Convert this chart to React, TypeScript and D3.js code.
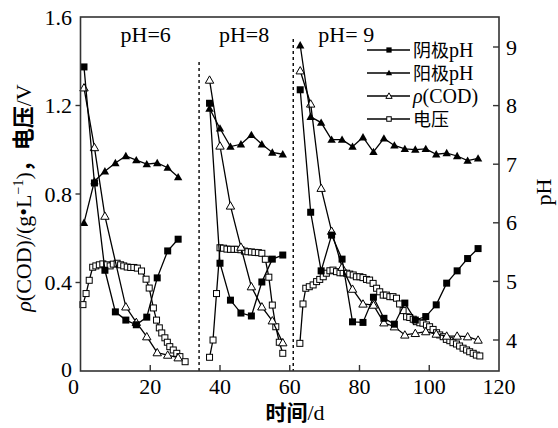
import React from 'react';
import * as d3 from 'd3';

// time (d) of each 3-day sample, per pH stage
const daysP1 = [1, 4, 7, 10, 13, 16, 19, 22, 25, 28];
const daysP2 = [37, 40, 43, 46, 49, 52, 55, 58];
const daysP3 = [63, 66, 69, 72, 75, 78, 81, 84, 87, 90, 93, 96, 99, 102, 105, 108, 111, 114];

// 阴极pH
const cathodeP1 = [8.66, 6.68, 5.19, 4.48, 4.34, 4.26, 4.39, 5.06, 5.52, 5.72];
const cathodeP2 = [8.04, 5.31, 4.68, 4.46, 4.41, 4.99, 5.38, 5.45];
const cathodeP3 = [8.27, 6.18, 5.18, 5.79, 5.38, 4.31, 4.3, 4.73, 4.37, 4.27, 4.63, 4.34, 4.4, 4.6, 4.97, 5.18, 5.39, 5.56];

// 阳极pH
const anodeP1 = [6.0, 6.71, 6.88, 7.02, 7.14, 7.07, 7.0, 7.02, 6.94, 6.78];
const anodeP2 = [7.95, 7.61, 7.3, 7.34, 7.5, 7.34, 7.2, 7.17];
const anodeP3 = [9.03, 7.81, 7.71, 7.42, 7.42, 7.3, 7.46, 7.21, 7.44, 7.32, 7.26, 7.25, 7.26, 7.17, 7.19, 7.14, 7.06, 7.1];

// ρ(COD) g/L
const codDaysP1 = [1, 4, 7, 13, 16, 19, 22, 25, 28];
const codP1 = [1.28, 1.01, 0.7, 0.29, 0.22, 0.155, 0.083, 0.072, 0.06];
const codP2 = [1.315, 1.017, 0.746, 0.56, 0.381, 0.29, 0.227, 0.128];
const codP3 = [1.357, 1.207, 0.826, 0.632, 0.469, 0.37, 0.303, 0.298, 0.218, 0.2, 0.163, 0.17, 0.178, 0.167, 0.158, 0.158, 0.155, 0.14];

// 电压 V, roughly daily readings
const voltDaysP1 = [0.7, 1.6, 2.5, 3.5, 4.4, 5.4, 6.4, 7.5, 8.5, 9.4, 10.5, 11.5, 12.4, 13.4, 14.4, 15.3, 16.3, 17.5, 18.8, 19.7, 20.9, 21.8, 22.6, 23.3, 24.2, 24.9, 25.6, 26.6, 27.6, 28.5, 30.0];
const voltP1 = [0.3, 0.35, 0.41, 0.469, 0.475, 0.48, 0.484, 0.48, 0.475, 0.483, 0.487, 0.48, 0.475, 0.47, 0.468, 0.468, 0.465, 0.452, 0.415, 0.375, 0.285, 0.23, 0.195, 0.172, 0.15, 0.13, 0.11, 0.095, 0.08, 0.065, 0.042];
const voltDaysP2 = [37, 38, 39, 40, 41, 42, 43, 44, 45, 46, 47, 48, 49, 50, 51, 52, 53, 54, 55, 56, 57, 58];
const voltP2 = [0.062, 0.14, 0.35, 0.557, 0.555, 0.551, 0.55, 0.55, 0.55, 0.548, 0.542, 0.539, 0.538, 0.536, 0.535, 0.532, 0.505, 0.424, 0.298, 0.2, 0.13, 0.08];
const voltDaysP3 = [62.9, 63.8, 64.6, 65.6, 66.7, 67.7, 68.6, 69.6, 70.5, 71.5, 72.4, 73.4, 74.4, 75.3, 76.3, 77.2, 78.2, 79.1, 80.1, 81.0, 82.0, 82.9, 83.9, 84.9, 85.8, 86.8, 87.7, 88.7, 89.6, 90.6, 91.5, 92.5, 93.5, 94.4, 95.4, 96.3, 97.3, 98.2, 99.2, 100.1, 101.1, 102.1, 103.0, 104.0, 104.9, 105.9, 106.8, 107.8, 108.7, 109.7, 110.7, 111.6, 112.6, 113.5, 114.5];
const voltP3 = [0.125, 0.303, 0.374, 0.381, 0.389, 0.404, 0.414, 0.426, 0.442, 0.453, 0.456, 0.449, 0.444, 0.444, 0.442, 0.438, 0.434, 0.426, 0.426, 0.422, 0.414, 0.411, 0.396, 0.374, 0.358, 0.343, 0.343, 0.336, 0.336, 0.329, 0.303, 0.273, 0.245, 0.242, 0.234, 0.223, 0.218, 0.216, 0.208, 0.2, 0.188, 0.173, 0.163, 0.155, 0.143, 0.137, 0.128, 0.122, 0.113, 0.103, 0.095, 0.087, 0.08, 0.072, 0.068];

const xTicks = [0, 20, 40, 60, 80, 100, 120];
const yLeftTicks = [0, 0.4, 0.8, 1.2, 1.6];
const yRightTicks = [4, 5, 6, 7, 8, 9];
const stageLabels = ['pH=6', 'pH=8', 'pH= 9'];
const stageLabelDays = [18.7, 46.9, 76.2];
const stageBreaks = [34, 61];
const legendNames = ['阴极pH', '阳极pH', 'ρ(COD)', '电压'];

const FONT = '"Liberation Serif", "Times New Roman", "Noto Sans CJK SC", serif';
const CJK = '"Noto Sans CJK SC", sans-serif';

const W = 558, H = 428;
const x = d3.scaleLinear().domain([0, 120]).range([80.5, 499]);
const yL = d3.scaleLinear().domain([0, 1.6]).range([371, 17]);
const yR = d3.scaleLinear().domain([4, 9]).range([340, 47]);

function marker(kind, cx, cy, key, s = 1) {
  if (kind === 'sqFill') {
    const a = 3.5 * s;
    return <rect key={key} x={cx - a} y={cy - a} width={2 * a} height={2 * a} fill="#000" />;
  }
  if (kind === 'sqOpen') {
    const a = 3 * s;
    return <rect key={key} x={cx - a} y={cy - a} width={2 * a} height={2 * a} fill="#fff" stroke="#000" strokeWidth={1} />;
  }
  const a = 4.2 * s;
  const pts = `${cx},${cy - a} ${cx + a},${cy + a * 0.75} ${cx - a},${cy + a * 0.75}`;
  if (kind === 'triFill') return <polygon key={key} points={pts} fill="#000" />;
  return <polygon key={key} points={pts} fill="#fff" stroke="#000" strokeWidth={1} />;
}

function Series({ days, vals, y, kind, id }) {
  const line = d3.line().x((d) => x(d[0])).y((d) => y(d[1]));
  const pts = days.map((d, i) => [d, vals[i]]);
  return (
    <g>
      <path d={line(pts)} fill="none" stroke="#000" strokeWidth={1.3} />
      {pts.map((p, i) => marker(kind, x(p[0]), y(p[1]), id + i))}
    </g>
  );
}

export default function App() {
  const series = [
    { days: voltDaysP1, vals: voltP1, y: yL, kind: 'sqOpen' },
    { days: voltDaysP2, vals: voltP2, y: yL, kind: 'sqOpen' },
    { days: voltDaysP3, vals: voltP3, y: yL, kind: 'sqOpen' },
    { days: codDaysP1, vals: codP1, y: yL, kind: 'triOpen' },
    { days: daysP2, vals: codP2, y: yL, kind: 'triOpen' },
    { days: daysP3, vals: codP3, y: yL, kind: 'triOpen' },
    { days: daysP1, vals: anodeP1, y: yR, kind: 'triFill' },
    { days: daysP2, vals: anodeP2, y: yR, kind: 'triFill' },
    { days: daysP3, vals: anodeP3, y: yR, kind: 'triFill' },
    { days: daysP1, vals: cathodeP1, y: yR, kind: 'sqFill' },
    { days: daysP2, vals: cathodeP2, y: yR, kind: 'sqFill' },
    { days: daysP3, vals: cathodeP3, y: yR, kind: 'sqFill' },
  ];
  const legendKinds = ['sqFill', 'triFill', 'triOpen', 'sqOpen'];
  const [x0, x1] = x.range();
  const [yb, yt] = yL.range();

  return (
    <svg width={W} height={H} style={{ position: 'absolute', left: 0, top: 0, background: '#fff' }} fontFamily={FONT}>
      <rect x={0} y={0} width={W} height={H} fill="#fff" />

      {/* stage separators */}
      <line x1={x(stageBreaks[0])} x2={x(stageBreaks[0])} y1={62} y2={yb} stroke="#000" strokeWidth={1.4} strokeDasharray="3,3" />
      <line x1={x(stageBreaks[1])} x2={x(stageBreaks[1])} y1={39} y2={yb} stroke="#000" strokeWidth={1.4} strokeDasharray="3,3" />

      {stageLabels.map((t, i) => (
        <text key={t} x={x(stageLabelDays[i])} y={42} fontSize={22} textAnchor="middle">{t}</text>
      ))}

      {series.map((s, i) => <Series key={i} id={'s' + i} {...s} />)}

      {/* frame */}
      <rect x={x0} y={yt} width={x1 - x0} height={yb - yt} fill="none" stroke="#333" strokeWidth={1.6} />

      {/* bottom axis */}
      {xTicks.map((t) => (
        <g key={'x' + t}>
          {t > 0 && t < 120 && <line x1={x(t)} x2={x(t)} y1={yb} y2={yb - 6} stroke="#333" strokeWidth={1.4} />}
          <text x={x(t) + (t === 0 ? -7 : 0)} y={yb + 23} fontSize={22} textAnchor="middle">{t}</text>
        </g>
      ))}
      <text x={295} y={420} fontSize={22} textAnchor="middle">
        <tspan fontFamily={CJK} fontWeight="bold" fontSize={21}>时间</tspan>/d
      </text>

      {/* left axis */}
      {yLeftTicks.map((t) => (
        <g key={'yl' + t}>
          {t > 0 && t < 1.6 && <line x1={x0 - 5} x2={x0} y1={yL(t)} y2={yL(t)} stroke="#333" strokeWidth={1.4} />}
          <text x={72} y={yL(t) + (t === 0 ? 6 : 7.5)} fontSize={22} textAnchor="end">{t === 0 ? '0' : t.toFixed(1)}</text>
        </g>
      ))}
      <text transform="translate(31,198) rotate(-90)" fontSize={22} textAnchor="middle">
        <tspan fontStyle="italic">ρ</tspan>(COD)/(g•L<tspan dy={-8} fontSize={14}>−1</tspan><tspan dy={8}>)</tspan>
        <tspan fontFamily={CJK} fontWeight="bold">，电压</tspan>/V
      </text>

      {/* right axis */}
      {yRightTicks.map((t) => (
        <g key={'yr' + t}>
          <line x1={x1 - 6} x2={x1} y1={yR(t)} y2={yR(t)} stroke="#333" strokeWidth={1.4} />
          <text x={506} y={yR(t) + 7.5} fontSize={22}>{t}</text>
        </g>
      ))}
      <text transform="translate(551,192) rotate(-90)" fontSize={22} textAnchor="middle">pH</text>

      {/* legend */}
      {legendNames.map((n, i) => {
        const ly = 50 + i * 23;
        return (
          <g key={n}>
            <line x1={367} x2={410} y1={ly} y2={ly} stroke="#000" strokeWidth={1.3} />
            {marker(legendKinds[i], 389, ly, 'lg' + i, 0.75)}
            <text x={413} y={ly + 6.5} fontSize={20}>
              {i === 2 ? (<><tspan fontStyle="italic">ρ</tspan>(COD)</>) : (
                <><tspan fontFamily={CJK} fontSize={18}>{n.slice(0, 2)}</tspan>{n.slice(2)}</>
              )}
            </text>
          </g>
        );
      })}
    </svg>
  );
}
